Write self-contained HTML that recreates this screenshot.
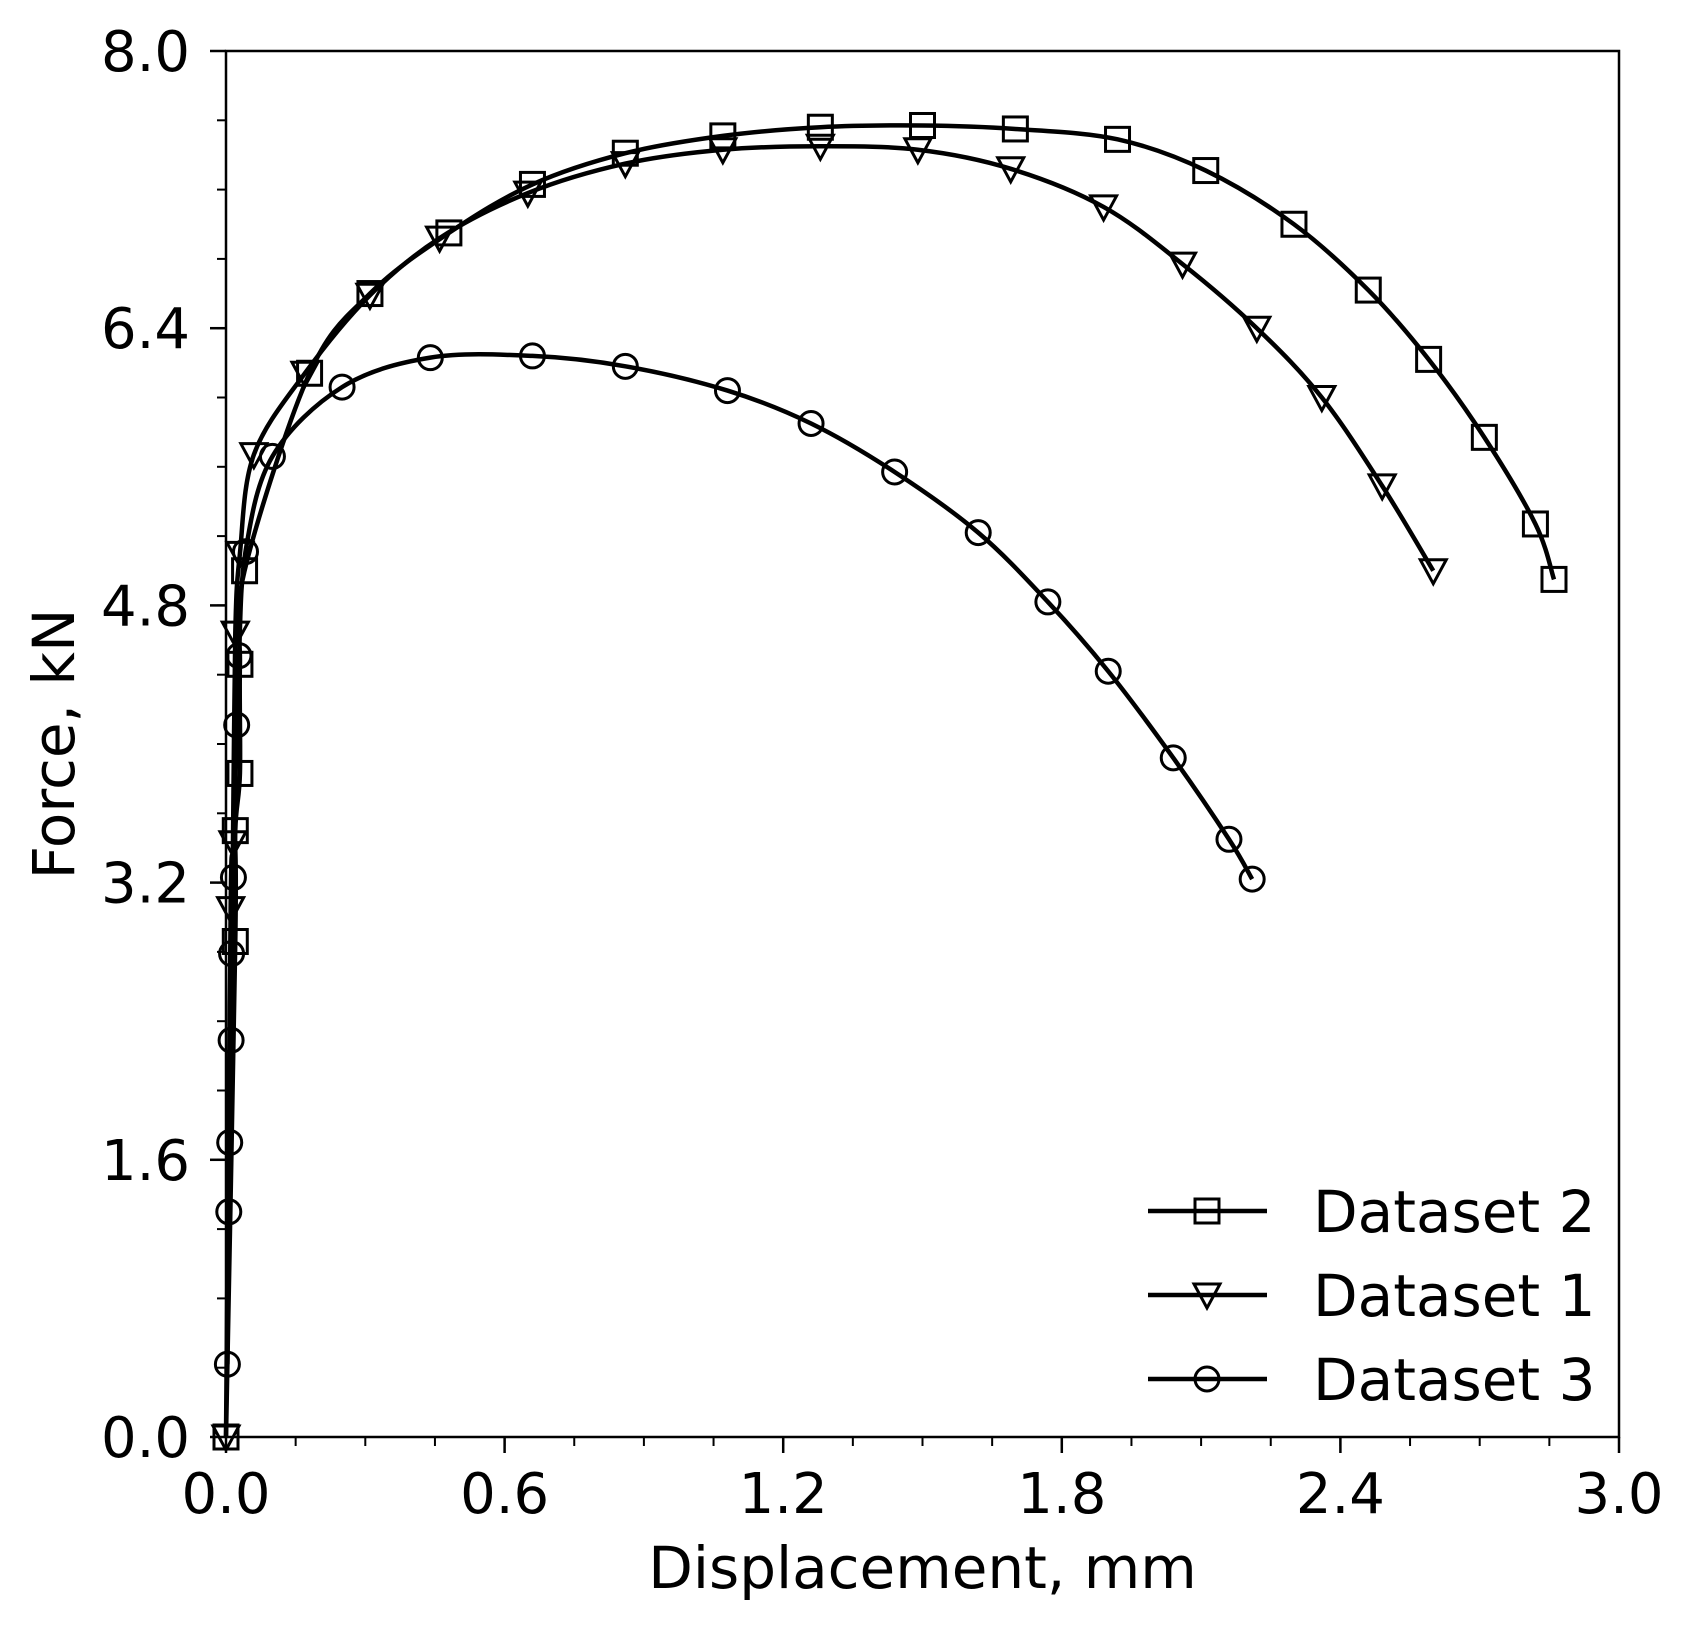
<!DOCTYPE html>
<html><head><meta charset="utf-8"><style>
html,body{margin:0;padding:0;background:#fff}
svg text{font-family:"DejaVu Sans","Liberation Sans",sans-serif;fill:#000}
</style></head><body>
<svg id="chart" width="1696" height="1628" viewBox="0 0 1696 1628" xmlns="http://www.w3.org/2000/svg">
<rect width="1696" height="1628" fill="#fff"/>
<g id="plot"></g>
</svg>
<script>
const xTicks=[0,0.6,1.2,1.8,2.4,3.0];
const xTickLabels=["0.0","0.6","1.2","1.8","2.4","3.0"];
const yTicks=[0,1.6,3.2,4.8,6.4,8.0];
const yTickLabels=["0.0","1.6","3.2","4.8","6.4","8.0"];
const ds2X=[0,0.02,0.02,0.03,0.03,0.04,0.18,0.31,0.48,0.66,0.86,1.07,1.28,1.50,1.70,1.92,2.11,2.30,2.46,2.59,2.71,2.82,2.86];
const ds2Y=[0,2.86,3.50,3.83,4.46,5.00,6.14,6.60,6.95,7.23,7.41,7.51,7.56,7.57,7.55,7.49,7.31,7.00,6.62,6.22,5.77,5.27,4.95];
const ds1X=[0,0.01,0.015,0.02,0.03,0.06,0.17,0.31,0.46,0.65,0.86,1.07,1.28,1.49,1.69,1.89,2.06,2.22,2.36,2.49,2.60];
const ds1Y=[0,3.05,3.43,4.64,5.10,5.67,6.14,6.59,6.92,7.18,7.35,7.43,7.45,7.43,7.32,7.10,6.77,6.40,6.00,5.49,5.00];
const ds3X=[0.003,0.006,0.008,0.011,0.012,0.016,0.023,0.028,0.042,0.10,0.25,0.44,0.66,0.86,1.08,1.26,1.44,1.62,1.77,1.90,2.04,2.16,2.21];
const ds3Y=[0.42,1.30,1.70,2.29,2.79,3.23,4.11,4.51,5.11,5.66,6.06,6.23,6.24,6.18,6.04,5.85,5.57,5.22,4.82,4.42,3.92,3.45,3.22];

const L=226,R=1619,T=51,B=1437;
const sx=v=>L+(v-0)/3*(R-L);
const sy=v=>B-(v-0)/8*(B-T);
const NS="http://www.w3.org/2000/svg";
const g=document.getElementById('plot');
function mk(tag,attrs,parent){const e=document.createElementNS(NS,tag);for(const k in attrs)e.setAttribute(k,attrs[k]);(parent||g).appendChild(e);return e;}

for(let v=0;v<=3.0001;v+=0.15){
  const x=sx(v);
  const t=mk('line',{x1:x,x2:x,y1:B,y2:B+9,stroke:'#000','stroke-width':2});
  
  
}
for(let v=0;v<=8.0001;v+=0.4){
  const y=sy(v);
  const t=mk('line',{x1:L-9,x2:L,y1:y,y2:y,stroke:'#000','stroke-width':2});
  
  
}
xTicks.forEach((v,i)=>{
  const x=sx(v);
  const t=mk('line',{x1:x,x2:x,y1:B,y2:B+16,stroke:'#000','stroke-width':2.5});
  
  
  const tx=mk('text',{x:x,y:B+76,'font-size':56,'text-anchor':'middle'});
  tx.textContent=xTickLabels[i];
  
  
});
yTicks.forEach((v,i)=>{
  const y=sy(v);
  const t=mk('line',{x1:L-16,x2:L,y1:y,y2:y,stroke:'#000','stroke-width':2.5});
  
  
  const tx=mk('text',{x:190,y:y+20,'font-size':56,'text-anchor':'end'});
  tx.textContent=yTickLabels[i];
  
  
});

function pathFrom(xs,ys){
  const p=xs.map((v,i)=>[sx(v),sy(ys[i])]);
  let d='M'+p[0][0]+','+p[0][1];
  for(let i=0;i<p.length-1;i++){
    const p0=p[Math.max(0,i-1)],p1=p[i],p2=p[i+1],p3=p[Math.min(p.length-1,i+2)];
    const c1=[p1[0]+(p2[0]-p0[0])/6,p1[1]+(p2[1]-p0[1])/6];
    const c2=[p2[0]-(p3[0]-p1[0])/6,p2[1]-(p3[1]-p1[1])/6];
    d+=` C${c1[0]},${c1[1]} ${c2[0]},${c2[1]} ${p2[0]},${p2[1]}`;
  }
  return d;
}
function marker(type,x,y,parent){
  let e;
  if(type==='square') e=mk('rect',{x:x-12,y:y-12,width:24,height:24,fill:'none',stroke:'#000','stroke-width':3},parent);
  else if(type==='tri') e=mk('polygon',{points:`${x-13},${y-11} ${x+13},${y-11} ${x},${y+13}`,fill:'none',stroke:'#000','stroke-width':3},parent);
  else e=mk('circle',{cx:x,cy:y,r:12,fill:'none',stroke:'#000','stroke-width':3},parent);
  return e;
}
function series(xs,ys,type,name){
  const grp=mk('g',{});
  
  
  const l=mk('path',{d:pathFrom(xs,ys),fill:'none',stroke:'#000','stroke-width':4.5},grp);
  
  
  xs.forEach((v,i)=>{
    const m=marker(type,sx(v),sy(ys[i]),grp);
    
    
  });
}
series(ds2X,ds2Y,'square','dataset-2-series');
series(ds1X,ds1Y,'tri','dataset-1-series');
series(ds3X,ds3Y,'circle','dataset-3-series');

const frame=mk('rect',{x:L,y:T,width:R-L,height:B-T,fill:'none',stroke:'#000','stroke-width':2.5});



const xl=mk('text',{x:(L+R)/2,y:1588,'font-size':58,'text-anchor':'middle'});
xl.textContent='Displacement, mm';


const yl=mk('text',{x:0,y:0,'font-size':58,'text-anchor':'middle',transform:`translate(74,${(T+B)/2}) rotate(-90)`});
yl.textContent='Force, kN';



const legendNames=['Dataset 2','Dataset 1','Dataset 3'];
const legendTypes=['square','tri','circle'];
const legendYs=[1211,1295,1379];
const lg=mk('g',{});


legendNames.forEach((n,i)=>{
  const y=legendYs[i];
  const ln=mk('line',{x1:1148,x2:1267,y1:y,y2:y,stroke:'#000','stroke-width':4.5},lg);
  
  
  const m=marker(legendTypes[i],1207,y,lg);
  
  
  const t=mk('text',{x:1313,y:y+21,'font-size':58},lg);
  t.textContent=n;
  
  
});
</script>
</body></html>
